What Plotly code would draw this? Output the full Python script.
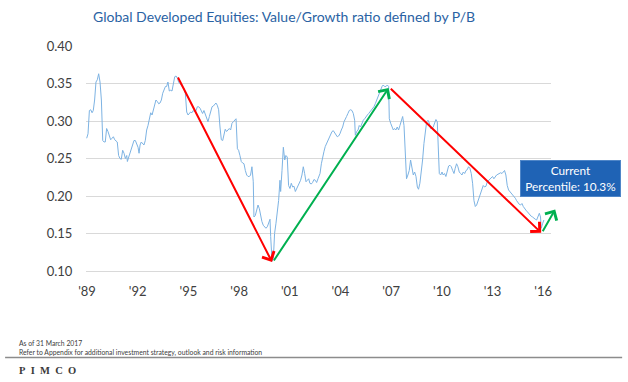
import plotly.graph_objects as go

# ---- data (decimal year positions, value/growth P/B ratio) ----
years_a = [1988.98, 1989.06, 1989.14, 1989.22, 1989.30, 1989.37, 1989.45, 1989.53, 1989.61, 1989.69,
           1989.77, 1989.85, 1989.93, 1990.01, 1990.08, 1990.16, 1990.24, 1990.32, 1990.40, 1990.48,
           1990.56, 1990.64, 1990.72, 1990.79, 1990.87, 1990.95, 1991.03, 1991.11, 1991.19, 1991.27,
           1991.35, 1991.39, 1991.47, 1991.54, 1991.62, 1991.70, 1991.78, 1991.86, 1991.94, 1992.02,
           1992.08, 1992.14, 1992.21, 1992.29, 1992.37, 1992.45, 1992.53, 1992.61, 1992.69, 1992.77,
           1992.85, 1992.93, 1993.00, 1993.08, 1993.16, 1993.24, 1993.32, 1993.40, 1993.48, 1993.56,
           1993.64, 1993.71, 1993.79, 1993.87, 1993.95, 1994.03, 1994.11, 1994.19, 1994.27, 1994.35,
           1994.42, 1994.50, 1994.58, 1994.66, 1994.74, 1994.82, 1994.90, 1994.98, 1995.06, 1995.13,
           1995.21, 1995.29, 1995.37, 1995.45, 1995.53, 1995.61, 1995.69]
values_a = [0.277, 0.283, 0.314, 0.315, 0.311, 0.314, 0.328, 0.352, 0.355, 0.363,
            0.352, 0.328, 0.274, 0.272, 0.272, 0.290, 0.286, 0.281, 0.275, 0.277,
            0.279, 0.275, 0.274, 0.272, 0.254, 0.250, 0.249, 0.261, 0.257, 0.250,
            0.254, 0.246, 0.252, 0.257, 0.261, 0.268, 0.274, 0.274, 0.270, 0.265,
            0.257, 0.268, 0.272, 0.270, 0.268, 0.274, 0.288, 0.294, 0.303, 0.311,
            0.308, 0.314, 0.319, 0.328, 0.326, 0.323, 0.324, 0.328, 0.337, 0.343,
            0.346, 0.346, 0.352, 0.340, 0.341, 0.340, 0.348, 0.359, 0.360, 0.357,
            0.352, 0.350, 0.348, 0.346, 0.343, 0.337, 0.312, 0.308, 0.310, 0.312,
            0.311, 0.314, 0.312, 0.314, 0.319, 0.319, 0.317]

years_b = [1995.77, 1995.84, 1995.92, 1996.00, 1996.08, 1996.16, 1996.24, 1996.32, 1996.40, 1996.48,
           1996.55, 1996.63, 1996.71, 1996.79, 1996.87, 1996.95, 1997.03, 1997.11, 1997.18, 1997.26,
           1997.34, 1997.42, 1997.50, 1997.58, 1997.66, 1997.74, 1997.82, 1997.90, 1997.97, 1998.05,
           1998.13, 1998.21, 1998.29, 1998.37, 1998.45, 1998.53, 1998.61, 1998.68, 1998.76, 1998.84,
           1998.88, 1998.96, 1999.04, 1999.12, 1999.20, 1999.28, 1999.35, 1999.43, 1999.51, 1999.59,
           1999.67, 1999.75, 1999.83, 1999.87, 1999.95, 2000.03, 2000.10, 2000.18, 2000.26, 2000.34,
           2000.42, 2000.46, 2000.54, 2000.62, 2000.70, 2000.77, 2000.85, 2000.93, 2001.01, 2001.09,
           2001.17, 2001.25, 2001.33, 2001.41, 2001.48, 2001.56, 2001.64, 2001.72, 2001.80, 2001.88,
           2001.96, 2002.04, 2002.12, 2002.19, 2002.27, 2002.35, 2002.43, 2002.51, 2002.59, 2002.67]
values_b = [0.314, 0.310, 0.314, 0.309, 0.306, 0.299, 0.306, 0.314, 0.319, 0.320,
            0.322, 0.324, 0.321, 0.315, 0.292, 0.275, 0.274, 0.281, 0.289, 0.286,
            0.288, 0.290, 0.288, 0.297, 0.299, 0.301, 0.303, 0.263, 0.261, 0.254,
            0.246, 0.244, 0.243, 0.234, 0.228, 0.226, 0.226, 0.228, 0.239, 0.219,
            0.172, 0.174, 0.181, 0.188, 0.183, 0.172, 0.166, 0.161, 0.159, 0.157,
            0.159, 0.163, 0.169, 0.146, 0.113, 0.117, 0.150, 0.163, 0.179, 0.194,
            0.221, 0.206, 0.234, 0.265, 0.248, 0.254, 0.252, 0.214, 0.210, 0.217,
            0.212, 0.213, 0.206, 0.210, 0.212, 0.217, 0.221, 0.228, 0.239, 0.230,
            0.219, 0.221, 0.223, 0.217, 0.216, 0.218, 0.222, 0.221, 0.218, 0.223]

years_c = [2002.79, 2002.87, 2002.94, 2003.02, 2003.10, 2003.18, 2003.26, 2003.34, 2003.42, 2003.50,
           2003.58, 2003.65, 2003.73, 2003.81, 2003.89, 2003.97, 2004.05, 2004.13, 2004.21, 2004.29,
           2004.36, 2004.44, 2004.52, 2004.60, 2004.68, 2004.76, 2004.84, 2004.88, 2004.96, 2005.04,
           2005.11, 2005.19, 2005.27, 2005.35, 2005.43, 2005.51, 2005.59, 2005.67, 2005.75, 2005.82,
           2005.90, 2005.98, 2006.06, 2006.14, 2006.22, 2006.30, 2006.38, 2006.46, 2006.53, 2006.61,
           2006.69, 2006.77, 2006.85, 2006.89, 2006.97, 2007.05, 2007.13, 2007.20, 2007.28, 2007.36,
           2007.44, 2007.52, 2007.60, 2007.68, 2007.76, 2007.84, 2007.91, 2007.99, 2008.07, 2008.15,
           2008.23, 2008.31, 2008.39, 2008.47, 2008.55, 2008.62, 2008.70, 2008.78, 2008.86, 2008.94,
           2009.02, 2009.10, 2009.18, 2009.26, 2009.33, 2009.41]
values_c = [0.230, 0.243, 0.252, 0.259, 0.266, 0.270, 0.274, 0.279, 0.281, 0.286,
            0.287, 0.284, 0.282, 0.279, 0.280, 0.283, 0.288, 0.292, 0.299, 0.302,
            0.306, 0.310, 0.314, 0.315, 0.314, 0.310, 0.301, 0.281, 0.286, 0.288,
            0.294, 0.292, 0.297, 0.301, 0.303, 0.306, 0.308, 0.310, 0.312, 0.314,
            0.317, 0.319, 0.323, 0.328, 0.332, 0.337, 0.343, 0.346, 0.348, 0.346,
            0.346, 0.348, 0.346, 0.303, 0.297, 0.292, 0.288, 0.290, 0.288, 0.292,
            0.288, 0.294, 0.299, 0.306, 0.294, 0.259, 0.223, 0.228, 0.234, 0.248,
            0.239, 0.228, 0.232, 0.226, 0.212, 0.209, 0.217, 0.230, 0.248, 0.270,
            0.286, 0.299, 0.301, 0.297, 0.290, 0.290]

years_d = [2009.49, 2009.57, 2009.65, 2009.73, 2009.77, 2009.85, 2009.93, 2010.01, 2010.08, 2010.16,
           2010.24, 2010.32, 2010.40, 2010.48, 2010.56, 2010.64, 2010.72, 2010.79, 2010.87, 2010.95,
           2011.03, 2011.11, 2011.19, 2011.27, 2011.35, 2011.43, 2011.50, 2011.58, 2011.66, 2011.74,
           2011.82, 2011.90, 2011.98, 2012.06, 2012.14, 2012.21, 2012.29, 2012.37, 2012.45, 2012.53,
           2012.61, 2012.69, 2012.77, 2012.85, 2012.92, 2013.00, 2013.08, 2013.16, 2013.24, 2013.32,
           2013.40, 2013.48, 2013.56, 2013.64, 2013.71, 2013.79, 2013.87, 2013.95, 2014.03, 2014.11,
           2014.19, 2014.27, 2014.35, 2014.42, 2014.50, 2014.58, 2014.66, 2014.74, 2014.82, 2014.90,
           2014.98, 2015.06, 2015.13, 2015.21, 2015.29, 2015.37, 2015.45, 2015.53, 2015.61, 2015.69,
           2015.77, 2015.84, 2015.88, 2015.96, 2016.04]
values_d = [0.292, 0.299, 0.302, 0.299, 0.279, 0.230, 0.228, 0.232, 0.228, 0.230,
            0.226, 0.234, 0.240, 0.241, 0.239, 0.234, 0.230, 0.237, 0.243, 0.239,
            0.232, 0.230, 0.228, 0.232, 0.230, 0.234, 0.235, 0.239, 0.237, 0.230,
            0.217, 0.194, 0.186, 0.188, 0.194, 0.199, 0.203, 0.208, 0.214, 0.212,
            0.213, 0.219, 0.221, 0.222, 0.225, 0.226, 0.223, 0.226, 0.228, 0.229,
            0.230, 0.231, 0.230, 0.232, 0.234, 0.228, 0.214, 0.208, 0.206, 0.203,
            0.201, 0.199, 0.197, 0.194, 0.191, 0.189, 0.188, 0.190, 0.186, 0.183,
            0.181, 0.179, 0.177, 0.176, 0.173, 0.172, 0.170, 0.169, 0.168, 0.172,
            0.177, 0.172, 0.157, 0.163, 0.168]

tick_years = [1989, 1992, 1995, 1998, 2001, 2004, 2007, 2010, 2013, 2016]
tick_labels = ["'89", "'92", "'95", "'98", "'01", "'04", "'07", "'10", "'13", "'16"]

# trend arrows: tail (x0, y0) -> head (x1, y1), in data units
arrow_x0 = [1994.34, 2000.00, 2006.89, 2015.92]
arrow_y0 = [0.360, 0.112, 0.345, 0.151]
arrow_x1 = [1999.95, 2006.85, 2015.88, 2016.71]
arrow_y1 = [0.112, 0.344, 0.151, 0.182]
arrow_colors = ["#FF0000", "#00B050", "#FF0000", "#00B050"]

years = years_a + years_b + years_c + years_d
values = values_a + values_b + values_c + values_d

FONT = "Lato, 'Open Sans', sans-serif"

fig = go.Figure()
fig.add_trace(go.Scatter(x=years, y=values, mode="lines",
                         line=dict(color="#7DB3E3", width=1), hoverinfo="skip"))

for x0, y0, x1, y1, c in zip(arrow_x0, arrow_y0, arrow_x1, arrow_y1, arrow_colors):
    fig.add_annotation(x=x1, y=y1, ax=x0, ay=y0, xref="x", yref="y", axref="x", ayref="y",
                       text="", showarrow=True, arrowhead=4, arrowsize=1.3, arrowwidth=2,
                       arrowcolor=c, standoff=0, startstandoff=0)

# title
fig.add_annotation(text="Global Developed Equities: Value/Growth ratio defined by P/B",
                   xref="paper", yref="paper", x=0.0108, y=1.129, xanchor="left", yanchor="middle",
                   showarrow=False, font=dict(family=FONT, size=14, color="#2A62A3"))

# current percentile box
fig.add_annotation(text="Current<br>Percentile: 10.3%", xref="paper", yref="paper",
                   x=1.043, y=0.409, xanchor="center", yanchor="middle", showarrow=False,
                   bgcolor="#1F63B5", bordercolor="#4F86C8", borderwidth=1, borderpad=0,
                   width=99, height=35, align="center",
                   font=dict(family=FONT, size=11.8, color="white"))

# footer
fig.add_annotation(text="As of 31 March 2017", xref="paper", yref="paper", x=-0.1484, y=-0.321,
                   xanchor="left", yanchor="middle", showarrow=False,
                   font=dict(family=FONT, size=6.8, color="#404040"))
fig.add_annotation(text="Refer to Appendix for additional investment strategy, outlook and risk information",
                   xref="paper", yref="paper", x=-0.1484, y=-0.361, xanchor="left", yanchor="middle",
                   showarrow=False, font=dict(family=FONT, size=6.8, color="#404040"))
fig.add_annotation(text="P\u2002I\u2002M\u2002C\u2002O", xref="paper", yref="paper", x=-0.1484, y=-0.444,
                   xanchor="left", yanchor="middle", showarrow=False,
                   font=dict(family="'Liberation Serif', serif", size=10.5, color="#3A3A3A", weight="bold"))
fig.add_shape(type="line", xref="paper", yref="paper", x0=-0.174, x1=1.153, y0=-0.384, y1=-0.384,
              line=dict(color="#8C8C8C", width=1.5))

fig.update_layout(
    width=628, height=382,
    margin=dict(l=86, r=77, t=46, b=111),
    paper_bgcolor="white", plot_bgcolor="white",
    showlegend=False,
    font=dict(family=FONT, color="#404040"),
    xaxis=dict(range=[1988.94, 2016.46], tickvals=tick_years, ticktext=tick_labels,
               showgrid=False, zeroline=False, showline=True, linecolor="#D9D9D9", linewidth=1,
               ticks="outside", ticklen=8, tickcolor="rgba(0,0,0,0)",
               tickfont=dict(family=FONT, size=13, color="#404040"), fixedrange=True),
    yaxis=dict(range=[0.10, 0.40], dtick=0.05, tick0=0.10, tickformat=".2f",
               showgrid=True, gridcolor="#D9D9D9", gridwidth=1, zeroline=False, showline=False,
               ticks="outside", ticklen=10, tickcolor="rgba(0,0,0,0)",
               tickfont=dict(family=FONT, size=13, color="#404040"), fixedrange=True),
)

fig.write_html("out.html", config={"displayModeBar": False},
               post_script="document.body.style.margin='0px';")
